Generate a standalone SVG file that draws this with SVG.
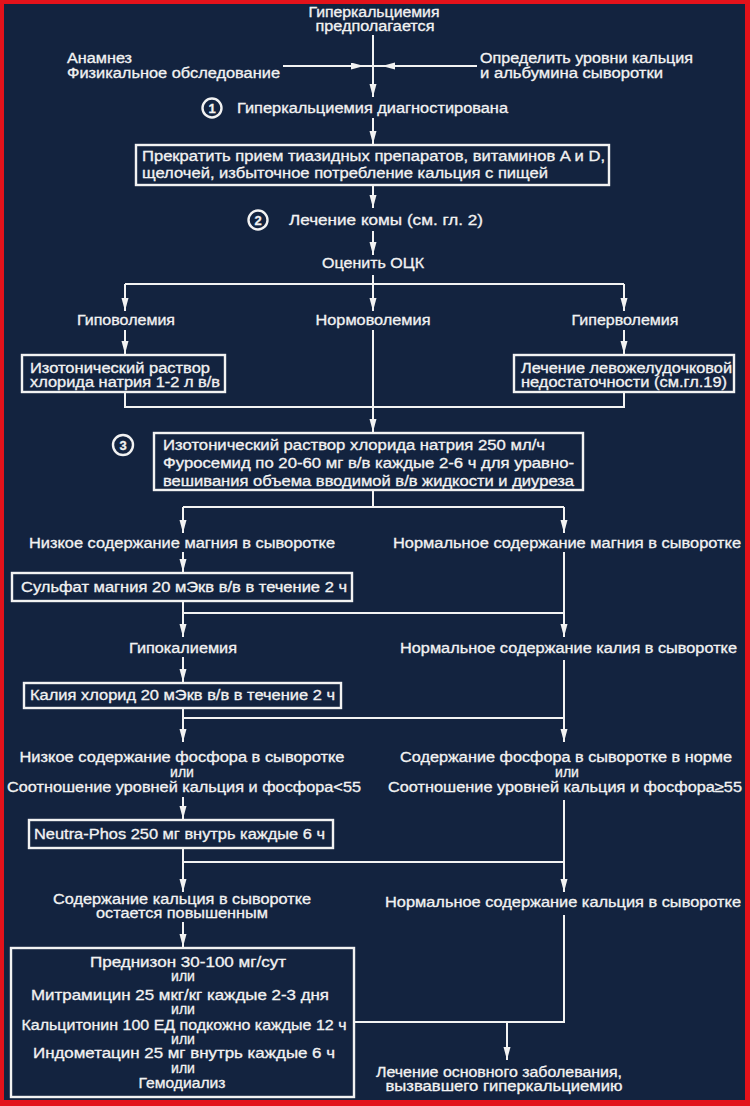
<svg xmlns="http://www.w3.org/2000/svg" width="750" height="1106" viewBox="0 0 750 1106">
<defs>
<style>
text{font-family:"Liberation Sans",Arial,sans-serif;font-size:14px;fill:#f2f2f2;stroke:#f2f2f2;stroke-width:0.3;}
.m{text-anchor:middle;}
.box{fill:none;stroke:#f2f2f2;stroke-width:2.4;}
.ln{fill:none;stroke:#f2f2f2;stroke-width:2;}
.circ{fill:none;stroke:#f2f2f2;stroke-width:2.4;}
.num{font-weight:bold;font-size:13px;text-anchor:middle;}
</style>
<marker id="arr" markerUnits="userSpaceOnUse" markerWidth="14" markerHeight="8" refX="13" refY="3.5" orient="auto">
<path d="M0,0 L13,3.5 L0,7 z" fill="#f2f2f2"/>
</marker>
</defs>
<rect x="0" y="0" width="750" height="1106" fill="#e3121b"/>
<rect x="4" y="4" width="741" height="1096" fill="#13233f"/>

<g id="connectors">
<path class="ln" d="M373,35 V97" marker-end="url(#arr)"/>
<path class="ln" d="M283,66 H364" marker-end="url(#arr)"/>
<path class="ln" d="M364,66 H373"/>
<path class="ln" d="M477,66 H382" marker-end="url(#arr)"/>
<path class="ln" d="M382,66 H373"/>
<path class="ln" d="M373,118 V144" marker-end="url(#arr)"/>
<path class="ln" d="M373,186 V208" marker-end="url(#arr)"/>
<path class="ln" d="M373,231 V255" marker-end="url(#arr)"/>
<path class="ln" d="M373,275 V284 M125,284 H624"/>
<path class="ln" d="M125,284 V311" marker-end="url(#arr)"/>
<path class="ln" d="M373,284 V311" marker-end="url(#arr)"/>
<path class="ln" d="M624,284 V311" marker-end="url(#arr)"/>
<path class="ln" d="M125,330 V354" marker-end="url(#arr)"/>
<path class="ln" d="M624,330 V354" marker-end="url(#arr)"/>
<path class="ln" d="M373,330 V432" marker-end="url(#arr)"/>
<path class="ln" d="M125,393 V407 H624 V393"/>
<path class="ln" d="M373,491 V507 M183,507 H564"/>
<path class="ln" d="M183,507 V533" marker-end="url(#arr)"/>
<path class="ln" d="M564,507 V533" marker-end="url(#arr)"/>
<path class="ln" d="M183,552 V572" marker-end="url(#arr)"/>
<path class="ln" d="M564,552 V637" marker-end="url(#arr)"/>
<path class="ln" d="M183,602 V613 H564"/>
<path class="ln" d="M183,613 V637" marker-end="url(#arr)"/>
<path class="ln" d="M183,657 V682" marker-end="url(#arr)"/>
<path class="ln" d="M564,660 V718"/>
<path class="ln" d="M183,709 V718 H564"/>
<path class="ln" d="M183,718 V742" marker-end="url(#arr)"/>
<path class="ln" d="M564,718 V742" marker-end="url(#arr)"/>
<path class="ln" d="M183,797 V819" marker-end="url(#arr)"/>
<path class="ln" d="M564,800 V862"/>
<path class="ln" d="M183,849 V862 H564"/>
<path class="ln" d="M183,862 V892" marker-end="url(#arr)"/>
<path class="ln" d="M564,862 V892" marker-end="url(#arr)"/>
<path class="ln" d="M183,922 V947" marker-end="url(#arr)"/>
<path class="ln" d="M564,915 V1022 H355"/>
<path class="ln" d="M507,1022 V1060" marker-end="url(#arr)"/>
</g>

<g id="start">
<text class="m" x="374" y="17" textLength="131" lengthAdjust="spacingAndGlyphs">Гиперкальциемия</text>
<text class="m" x="375" y="31" textLength="119" lengthAdjust="spacingAndGlyphs">предполагается</text>
</g>
<g id="anamnesis">
<text x="67" y="63" textLength="65" lengthAdjust="spacingAndGlyphs">Анамнез</text>
<text x="67" y="78" textLength="213" lengthAdjust="spacingAndGlyphs">Физикальное обследование</text>
</g>
<g id="levels">
<text x="480" y="63" textLength="213" lengthAdjust="spacingAndGlyphs">Определить уровни кальция</text>
<text x="480" y="78" textLength="183" lengthAdjust="spacingAndGlyphs">и альбумина сыворотки</text>
</g>
<g id="step1">
<circle class="circ" cx="212" cy="108" r="9.5"/>
<text class="num" x="212" y="112.5">1</text>
<text x="237" y="113" textLength="271" lengthAdjust="spacingAndGlyphs">Гиперкальциемия диагностирована</text>
</g>
<g id="stop-box">
<rect class="box" x="136" y="145" width="473" height="40"/>
<text x="142" y="161" textLength="463" lengthAdjust="spacingAndGlyphs">Прекратить прием тиазидных препаратов, витаминов A и D,</text>
<text x="142" y="178" textLength="406" lengthAdjust="spacingAndGlyphs">щелочей, избыточное потребление кальция с пищей</text>
</g>
<g id="step2">
<circle class="circ" cx="258" cy="220" r="9.5"/>
<text class="num" x="258" y="224.5">2</text>
<text x="289" y="225" textLength="194" lengthAdjust="spacingAndGlyphs">Лечение комы (см. гл. 2)</text>
</g>
<g id="assess">
<text class="m" x="373" y="268" textLength="102" lengthAdjust="spacingAndGlyphs">Оценить ОЦК</text>
</g>
<g id="hypovolemia">
<text class="m" x="126" y="325" textLength="98" lengthAdjust="spacingAndGlyphs">Гиповолемия</text>
</g>
<g id="normovolemia">
<text class="m" x="373" y="325" textLength="115" lengthAdjust="spacingAndGlyphs">Нормоволемия</text>
</g>
<g id="hypervolemia">
<text class="m" x="625" y="325" textLength="107" lengthAdjust="spacingAndGlyphs">Гиперволемия</text>
</g>
<g id="saline-box">
<rect class="box" x="22" y="355" width="203" height="37"/>
<text x="30" y="373" textLength="180" lengthAdjust="spacingAndGlyphs">Изотонический раствор</text>
<text x="30" y="387" textLength="190" lengthAdjust="spacingAndGlyphs">хлорида натрия 1-2 л в/в</text>
</g>
<g id="lv-box">
<rect class="box" x="514" y="355" width="220" height="37"/>
<text x="521" y="373" textLength="211" lengthAdjust="spacingAndGlyphs">Лечение левожелудочковой</text>
<text x="521" y="387" textLength="206" lengthAdjust="spacingAndGlyphs">недостаточности (см.гл.19)</text>
</g>
<g id="step3">
<circle class="circ" cx="123" cy="445" r="10"/>
<text class="num" x="123" y="449.5">3</text>
<rect class="box" x="154" y="433" width="429" height="57"/>
<text x="163" y="450" textLength="382" lengthAdjust="spacingAndGlyphs">Изотонический раствор хлорида натрия 250 мл/ч</text>
<text x="163" y="468" textLength="411" lengthAdjust="spacingAndGlyphs">Фуросемид по 20-60 мг в/в каждые 2-6 ч для уравно-</text>
<text x="163" y="486" textLength="411" lengthAdjust="spacingAndGlyphs">вешивания объема вводимой в/в жидкости и диуреза</text>
</g>
<g id="low-mg">
<text x="29" y="548" textLength="306" lengthAdjust="spacingAndGlyphs">Низкое содержание магния в сыворотке</text>
</g>
<g id="normal-mg">
<text x="393" y="548" textLength="348" lengthAdjust="spacingAndGlyphs">Нормальное содержание магния в сыворотке</text>
</g>
<g id="mg-box">
<rect class="box" x="12" y="573" width="340" height="28"/>
<text x="21" y="592" textLength="326" lengthAdjust="spacingAndGlyphs">Сульфат магния 20 мЭкв в/в в течение 2 ч</text>
</g>
<g id="hypokalemia">
<text class="m" x="183" y="653" textLength="108" lengthAdjust="spacingAndGlyphs">Гипокалиемия</text>
</g>
<g id="normal-k">
<text x="400" y="653" textLength="337" lengthAdjust="spacingAndGlyphs">Нормальное содержание калия в сыворотке</text>
</g>
<g id="k-box">
<rect class="box" x="24" y="683" width="317" height="25"/>
<text x="30" y="700" textLength="305" lengthAdjust="spacingAndGlyphs">Калия хлорид 20 мЭкв в/в в течение 2 ч</text>
</g>
<g id="low-p">
<text class="m" x="182" y="762" textLength="325" lengthAdjust="spacingAndGlyphs">Низкое содержание фосфора в сыворотке</text>
<text class="m" x="182" y="777">или</text>
<text class="m" x="184" y="792" textLength="354" lengthAdjust="spacingAndGlyphs">Соотношение уровней кальция и фосфора&lt;55</text>
</g>
<g id="normal-p">
<text class="m" x="566" y="762" textLength="332" lengthAdjust="spacingAndGlyphs">Содержание фосфора в сыворотке в норме</text>
<text class="m" x="567" y="777">или</text>
<text class="m" x="565" y="792" textLength="354" lengthAdjust="spacingAndGlyphs">Соотношение уровней кальция и фосфора≥55</text>
</g>
<g id="p-box">
<rect class="box" x="29" y="820" width="304" height="28"/>
<text x="34" y="839" textLength="291" lengthAdjust="spacingAndGlyphs">Neutra-Phos 250 мг внутрь каждые 6 ч</text>
</g>
<g id="high-ca">
<text class="m" x="182" y="904" textLength="258" lengthAdjust="spacingAndGlyphs">Содержание кальция в сыворотке</text>
<text class="m" x="182" y="918" textLength="172" lengthAdjust="spacingAndGlyphs">остается повышенным</text>
</g>
<g id="normal-ca">
<text class="m" x="563" y="907" textLength="356" lengthAdjust="spacingAndGlyphs">Нормальное содержание кальция в сыворотке</text>
</g>
<g id="drug-box">
<rect class="box" x="11" y="948" width="343" height="149"/>
<text class="m" x="188" y="967" textLength="196" lengthAdjust="spacingAndGlyphs">Преднизон 30-100 мг/сут</text>
<text class="m" x="183" y="981">или</text>
<text class="m" x="180" y="1000" textLength="298" lengthAdjust="spacingAndGlyphs">Митрамицин 25 мкг/кг каждые 2-3 дня</text>
<text class="m" x="183" y="1014">или</text>
<text class="m" x="184" y="1030" textLength="325" lengthAdjust="spacingAndGlyphs">Кальцитонин 100 ЕД подкожно каждые 12 ч</text>
<text class="m" x="183" y="1044">или</text>
<text class="m" x="184" y="1058" textLength="302" lengthAdjust="spacingAndGlyphs">Индометацин 25 мг  внутрь каждые 6 ч</text>
<text class="m" x="183" y="1073">или</text>
<text class="m" x="182" y="1088" textLength="87" lengthAdjust="spacingAndGlyphs">Гемодиализ</text>
</g>
<g id="underlying">
<text class="m" x="499" y="1077" textLength="246" lengthAdjust="spacingAndGlyphs">Лечение основного заболевания,</text>
<text class="m" x="504" y="1091" textLength="237" lengthAdjust="spacingAndGlyphs">вызвавшего гиперкальциемию</text>
</g>
</svg>
